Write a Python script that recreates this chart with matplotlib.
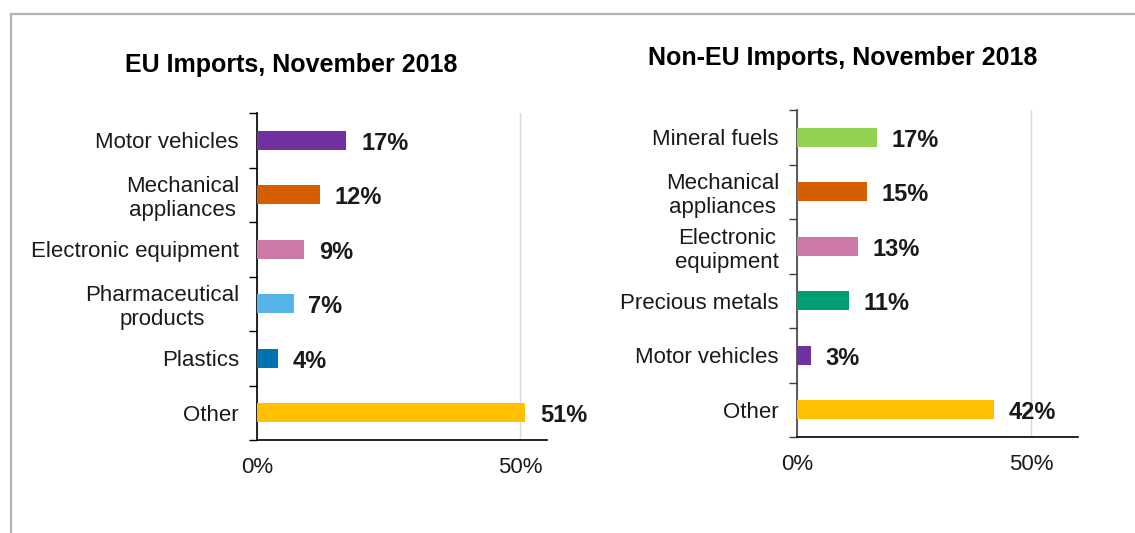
import matplotlib
matplotlib.use("Agg")
import matplotlib.pyplot as plt
from matplotlib.lines import Line2D
import numpy as np

plt.rcParams['font.family'] = ['Liberation Sans', 'DejaVu Sans']

# ---- data ----
eu_title = "EU Imports, November 2018"
eu_categories = ["Motor vehicles", "Mechanical\nappliances", "Electronic equipment",
                 "Pharmaceutical\nproducts", "Plastics", "Other"]
eu_values = [17, 12, 9, 7, 4, 51]
eu_colors = ["#7030a0", "#d55e00", "#cc79a7", "#56b4e9", "#0072b2", "#ffc000"]

noneu_title = "Non-EU Imports, November 2018"
noneu_categories = ["Mineral fuels", "Mechanical\nappliances", "Electronic\nequipment",
                    "Precious metals", "Motor vehicles", "Other"]
noneu_values = [17, 15, 13, 11, 3, 42]
noneu_colors = ["#92d050", "#d55e00", "#cc79a7", "#009e73", "#7030a0", "#ffc000"]

x_ticks = [0, 50]
x_ticklabels = ["0%", "50%"]

W, H = 1135, 533
fig = plt.figure(figsize=(W / 100, H / 100), dpi=100)


def px_rect(x0, y0, x1, y1):
    return [x0 / W, 1 - y1 / H, (x1 - x0) / W, (y1 - y0) / H]


def draw(ax, cats, vals, cols, xmax, spine_color):
    n = len(cats)
    y = np.arange(n)
    ax.barh(y, vals, height=0.34, color=cols, zorder=3)
    ax.set_ylim(n - 0.5, -0.5)
    ax.set_xlim(0, xmax)
    ax.set_yticks(y)
    ax.set_yticklabels(cats, fontsize=16, color="#1a1a1a")
    for t in ax.get_yticklabels():
        t.set_multialignment("center")
    ax.tick_params(axis="y", which="major", length=0, pad=13)
    ax.set_yticks(np.arange(n + 1) - 0.5, minor=True)
    ax.tick_params(axis="y", which="minor", length=5.5, width=1.0, color=spine_color)
    ax.set_xticks(x_ticks)
    ax.set_xticklabels(x_ticklabels, fontsize=16, color="#1a1a1a")
    ax.tick_params(axis="x", length=0, pad=12)
    ax.xaxis.grid(True, color="#d9d9d9", linewidth=1.0, zorder=0)
    ax.set_axisbelow(True)
    for s in ["top", "right"]:
        ax.spines[s].set_visible(False)
    ax.spines["left"].set_color(spine_color)
    ax.spines["bottom"].set_color("#000000")
    ax.spines["left"].set_linewidth(1.2)
    ax.spines["bottom"].set_linewidth(1.2)
    for yi, v in zip(y, vals):
        ax.annotate(f"{v}%", (v, yi), xytext=(10.5, -2), textcoords="offset points",
                    ha="left", va="center", fontsize=17, fontweight="bold",
                    color="#1a1a1a")


ax1 = fig.add_axes(px_rect(257, 113, 547, 440))
draw(ax1, eu_categories, eu_values, eu_colors, 55.1, "#000000")

ax2 = fig.add_axes(px_rect(797, 110, 1078, 437))
draw(ax2, noneu_categories, noneu_values, noneu_colors, 60.0, "#404040")

fig.text(291 / W, 1 - 65 / H, eu_title, ha="center", va="center",
         fontsize=18, fontweight="bold", color="#000000")
fig.text(843 / W, 1 - 58 / H, noneu_title, ha="center", va="center",
         fontsize=18, fontweight="bold", color="#000000")

# border
fig.add_artist(Line2D([11 / W, 1], [1 - 14 / H, 1 - 14 / H], transform=fig.transFigure,
                      color="#b3b3b3", linewidth=1.6))
fig.add_artist(Line2D([11 / W, 11 / W], [1 - 14 / H, 0], transform=fig.transFigure,
                      color="#b3b3b3", linewidth=1.6))

fig.savefig("out.png", dpi=100)
